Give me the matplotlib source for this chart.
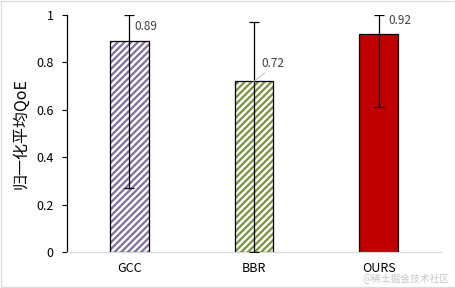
import matplotlib
matplotlib.use("Agg")
import matplotlib.pyplot as plt
from matplotlib.patches import Rectangle

plt.rcParams['font.family'] = ['Noto Sans CJK SC', 'DejaVu Sans']
plt.rcParams['hatch.linewidth'] = 1.6

categories = ["GCC", "BBR", "OURS"]
values = [0.89, 0.72, 0.92]
err_low = [0.27, 0.0, 0.61]
err_high = [1.0, 0.97, 1.0]
labels = ["0.89", "0.72", "0.92"]
yticks = [0, 0.2, 0.4, 0.6, 0.8, 1.0]
yticklabels = ["0", "0.2", "0.4", "0.6", "0.8", "1"]

fig = plt.figure(figsize=(4.56, 2.88), dpi=100)
ax = fig.add_axes([0.147, 0.125, 0.82, 0.823])

x = list(range(len(categories)))
face = ["white", "white", "#C00000"]
hatchc = ["#7F6F9F", "#77933C", "black"]
hatches = ["/////", "/////", None]
for i in x:
    ax.bar(i, values[i], width=0.31, color=face[i], edgecolor=hatchc[i],
           hatch=hatches[i], linewidth=0, zorder=2)
    ax.bar(i, values[i], width=0.31, color="none", edgecolor="black",
           linewidth=0.9, zorder=3)

yerr = [[values[i] - err_low[i] for i in x], [err_high[i] - values[i] for i in x]]
ax.errorbar(x, values, yerr=yerr, fmt="none", ecolor="black", elinewidth=0.9,
            capsize=3.5, capthick=0.9, zorder=4)

# value labels
ax.text(0.04, 0.95, labels[0], fontsize=8.5, color="#404040", ha="left", va="center", zorder=5)
ax.annotate(labels[1], xy=(1.0, values[1]), xytext=(1.06, 0.795), fontsize=8.5,
            color="#404040", ha="left", va="center",
            arrowprops=dict(arrowstyle="-", color="#BFBFBF", lw=0.7,
                            shrinkA=0, shrinkB=0, relpos=(0.3, 0)), zorder=5)
ax.text(2.08, 0.975, labels[2], fontsize=8.5, color="#404040", ha="left", va="center", zorder=5)

ax.set_xlim(-0.5, 2.5)
ax.set_ylim(0, 1.0)
ax.set_xticks(x)
ax.set_xticklabels(categories, fontsize=9)
ax.set_yticks(yticks)
ax.set_yticklabels(yticklabels, fontsize=9)
ax.tick_params(axis="x", length=0, pad=7)
ax.tick_params(axis="y", length=3.5, width=0.8, direction="out", pad=6)
ax.spines["top"].set_visible(False)
ax.spines["right"].set_visible(False)
ax.spines["bottom"].set_color("#D9D9D9")
ax.spines["bottom"].set_linewidth(0.9)
ax.spines["left"].set_color("black")
ax.spines["left"].set_linewidth(0.9)
ax.set_ylabel("归一化平均QoE", fontsize=11.5, labelpad=5)

fig.patches.append(Rectangle((0.002, 0.003), 0.996, 0.994, transform=fig.transFigure,
                             fill=False, edgecolor="#D9D9D9", linewidth=0.8))
fig.text(0.985, 0.012, "@稀土掘金技术社区", fontsize=7, color="#C8C8C8", ha="right", va="bottom")

fig.savefig("out.png", dpi=100)
